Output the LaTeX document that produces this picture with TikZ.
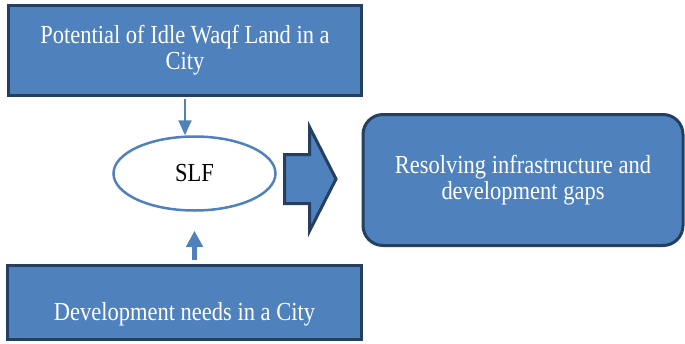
\documentclass[tikz,border=0pt]{standalone}
\usepackage{fontspec}
\setmainfont[FakeStretch=0.865]{Liberation Serif}
\usetikzlibrary{arrows.meta,shapes.geometric}
\definecolor{boxblue}{HTML}{4F81BD}
\definecolor{boxnavy}{HTML}{243F60}

\begin{document}
\begin{tikzpicture}[
        x=1pt, y=-1pt,
        every node/.style={font=\fontsize{26}{26}\selectfont, text centered},
        bluebox/.style={draw=boxnavy, fill=boxblue, line width=3pt, text=white, align=center},
        oval/.style={draw=boxblue, fill=white, ellipse, line width=2.5pt, minimum width=162pt, minimum height=74pt},
        thinarrow/.style={draw=boxblue, line width=2pt, -{Triangle[width=13pt,length=15pt]}},
        thickarrow/.style={draw=boxblue, line width=5pt, -{Triangle[width=16pt,length=16pt]}},
        bigarrow/.style={draw=boxnavy, fill=boxblue, line width=3pt, line join=miter},
    ]
    \useasboundingbox (0,0) rectangle (685,343);

    \node[bluebox, minimum width=353pt, minimum height=90pt](potential) at (185,50.5){Potential of Idle Waqf Land in a\\City};
    \node[oval](slf) at (194.5,173.5){SLF};
    \node[bluebox, minimum width=354pt, minimum height=74pt, text height=36pt, text depth=0pt](needs) at (184.5,302.5){Development needs in a City};
    \node[bluebox, rounded corners=20pt, minimum width=320pt, minimum height=131pt](gaps) at (523,180){Resolving infrastructure and\\development gaps};

    \draw[thinarrow, shorten <=1.5pt] (potential.south) -- (potential.south |- slf.north);
    \draw[thickarrow, shorten <=4pt] (slf.south |- needs.north) -- ([yshift=-19pt]slf.south);

    \draw[bigarrow] (284.5,154.5) -- (309.5,154.5) -- (309.5,127) -- (336,179) -- (309.5,231) -- (309.5,203.5) -- (284.5,203.5) -- cycle;
\end{tikzpicture}
\end{document}
